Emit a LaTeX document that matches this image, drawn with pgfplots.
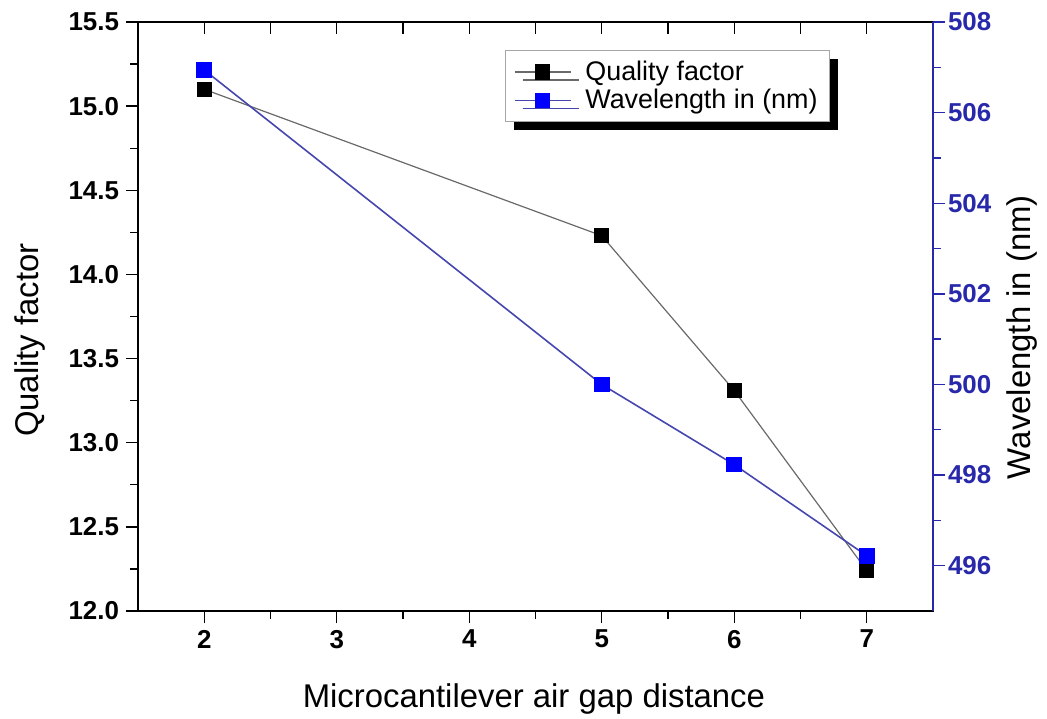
\documentclass[border=0pt]{standalone}
\usepackage{fontspec}
\setmainfont{Liberation Sans}
\usepackage{pgfplots}
\pgfplotsset{compat=1.18}
\usetikzlibrary{shadows}

\definecolor{axisblue}{RGB}{40,40,170}
\definecolor{markblue}{RGB}{0,0,255}
\definecolor{lineblue}{RGB}{70,70,175}
\definecolor{linegray}{RGB}{105,105,105}

% Quality factor against air gap distance
\pgfplotstableread{
x   q
2   15.10
5   14.23
6   13.31
7   12.24
}\qualitydata

% Resonant wavelength against air gap distance
\pgfplotstableread{
x   w
2   506.94
5   500.00
6   498.23
7   496.22
}\wavedata

\pgfplotsset{
  common/.style={
    scale only axis,
    width=397.5bp, height=294.5bp,
    at={(0,0)}, anchor=south west,
    xmin=1.5, xmax=7.5,
    xtick={2,3,4,5,6,7},
    minor x tick num=1,
    major tick length=6bp,
    minor tick length=4bp,
    every tick/.style={line width=0.7bp},
    axis line style={line width=0.9bp},
    /pgf/number format/assume math mode=true,
    ticklabel style={font=\bfseries\fontsize{13}{15}\selectfont},
    label style={font=\fontsize{16.5}{19}\selectfont},
  },
}

\begin{document}
\begin{tikzpicture}
\useasboundingbox (-69bp,-54bp) rectangle (454.5bp,305.5bp);

% left axis: quality factor
\begin{axis}[common,
  ymin=12, ymax=15.5,
  ytick={12,12.5,...,15.5},
  minor y tick num=1,
  xtick pos=bottom, ytick pos=left,
  tick align=outside,
  yticklabel style={/pgf/number format/.cd, fixed, fixed zerofill, precision=1},
  xlabel={Microcantilever air gap distance},
  ylabel={Quality factor},
  xlabel style={at={([yshift=-44bp]axis description cs:0.498,0)}, anchor=center},
  ylabel style={at={([xshift=-54bp]axis description cs:0,0.46)}, anchor=center},
  legend style={
    at={(0.462,0.952)}, anchor=north west,
    draw=gray!70, fill=white, line width=0.5bp,
    font=\fontsize{13.5}{16}\selectfont,
    inner xsep=4bp, inner ysep=3bp,
    row sep=-1bp,
    /tikz/every odd column/.append style={column sep=5bp},
    drop shadow={shadow xshift=4bp, shadow yshift=-4bp, fill=black, opacity=1},
  },
  legend cell align=left,
  legend image code/.code={
    \draw[#1, mark=none] (0bp,0bp) -- (28bp,0bp);
    \draw[#1, only marks] plot coordinates {(14bp,0bp)};
  },
]
\addplot[linegray, line width=0.6bp, mark=square*, mark size=3.5bp,
  mark options={solid, fill=black, draw=black}]
  table[x=x, y=q] {\qualitydata};
\addlegendentry{Quality factor}
\addlegendimage{lineblue, line width=0.8bp, mark=square*, mark size=3.5bp,
  mark options={solid, fill=markblue, draw=markblue}}
\addlegendentry{Wavelength in (nm)}
\end{axis}

% top edge ticks pointing inward
\begin{axis}[common,
  ymin=0, ymax=1,
  axis x line*=top, axis y line=none,
  tick align=inside,
  minor tick length=6bp,
  xticklabels={},
]
\end{axis}

% right axis: wavelength
\begin{axis}[common,
  ymin=495, ymax=508,
  ytick={496,498,...,508},
  minor y tick num=1,
  axis y line*=right, axis x line=none,
  tick align=outside,
  y axis line style={axisblue, line width=0.9bp},
  ytick style={axisblue},
  yticklabel style={text=axisblue, xshift=-2bp},
  ylabel={Wavelength in (nm)},
  ylabel style={at={([xshift=44.5bp]axis description cs:1,0.465)}, anchor=center},
]
\addplot[lineblue, line width=0.8bp, mark=square*, mark size=3.5bp,
  mark options={solid, fill=markblue, draw=markblue}]
  table[x=x, y=w] {\wavedata};
\end{axis}
\end{tikzpicture}
\end{document}
